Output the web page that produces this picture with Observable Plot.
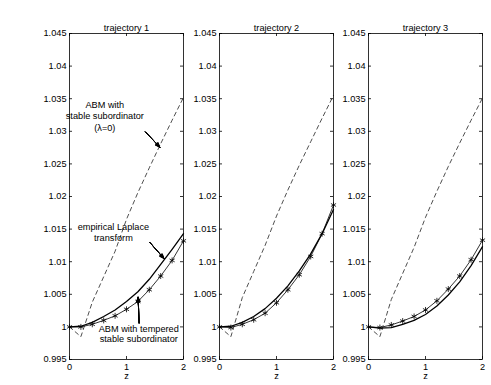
<!DOCTYPE html>
<html><head><meta charset="utf-8">
<script src="https://cdn.jsdelivr.net/npm/d3@7"></script>
<script src="https://cdn.jsdelivr.net/npm/@observablehq/plot@0.6"></script>
<style>
body{margin:0;background:#fff;}
#chart{position:relative;width:491px;height:385px;overflow:hidden;background:#fff;}
#chart svg{position:absolute;top:0;}
</style></head><body><div id="chart"></div>
<script>
const z = [0,0.2,0.4,0.6,0.8,1.0,1.2,1.4,1.6,1.8,2.0];
const titles = ["trajectory 1","trajectory 2","trajectory 3"];

const empirical1 = [1.0, 1.0001, 1.0007, 1.0016, 1.0026, 1.0039, 1.0054, 1.0073, 1.0096, 1.0119, 1.0143];
const tempered1  = [1.0, 1.0000, 1.0004, 1.0010, 1.0017, 1.0027, 1.0039, 1.0057, 1.0078, 1.0102, 1.0132];
const stable1    = [1.0, 0.9985, 1.0038, 1.0077, 1.0116, 1.0165, 1.0206, 1.0244, 1.0281, 1.0317, 1.0352];

const empirical2 = [1.0, 1.0001, 1.0007, 1.0016, 1.0028, 1.0044, 1.0063, 1.0086, 1.0112, 1.0143, 1.0180];
const tempered2  = [1.0, 0.9999, 1.0004, 1.0011, 1.0021, 1.0037, 1.0057, 1.0080, 1.0108, 1.0143, 1.0187];
const stable2    = [1.0, 0.9985, 1.0045, 1.0085, 1.0125, 1.0170, 1.0210, 1.0248, 1.0284, 1.0320, 1.0355];

const empirical3 = [1.0, 0.9998, 0.9999, 1.0004, 1.0010, 1.0019, 1.0032, 1.0049, 1.0069, 1.0094, 1.0123];
const tempered3  = [1.0, 0.9999, 1.0003, 1.0009, 1.0016, 1.0026, 1.0040, 1.0058, 1.0078, 1.0103, 1.0133];
const stable3    = [1.0, 0.9985, 1.0042, 1.0082, 1.0122, 1.0168, 1.0208, 1.0246, 1.0282, 1.0317, 1.0351];

const yTicks = [0.995, 1, 1.005, 1.01, 1.015, 1.02, 1.025, 1.03, 1.035, 1.04, 1.045];
const yTickLabels = ["0.995","1","1.005","1.01","1.015","1.02","1.025","1.03","1.035","1.04","1.045"];
const xTicks = [0, 1, 2];
const xTickLabels = ["0","1","2"];
const xLabel = "z";

const annotationTexts = ["ABM with\nstable subordinator\n(λ=0)", "empirical Laplace\ntransform", "ABM with tempered\nstable subordinator"];
const annotationX = [0.62, 0.77, 1.215];
const annotationY = [1.0324, 1.0145, 0.99895];
const annotationLineHeight = [1.27, 1.16, 1.16];
const arrowX1 = [1.333, 1.41, 1.221];
const arrowY1 = [1.0299, 1.01295, 1.0006];
const arrowX2 = [1.584, 1.656, 1.204];
const arrowY2 = [1.02757, 1.0105, 1.00455];

const series = [
  [empirical1, tempered1, stable1],
  [empirical2, tempered2, stable2],
  [empirical3, tempered3, stable3]
];
const offsets = [0, 150, 299];

const FONT = "'Liberation Sans', Arial, Helvetica, sans-serif";
const W = 193, ML = 69, MR = 10, MT = 33, MB = 26, H = 385;
const fw = W - ML - MR, fh = H - MT - MB, tk = 3;
const yLab = new Map(yTicks.map((d, i) => [d, yTickLabels[i]]));
const xLab = new Map(xTicks.map((d, i) => [d, xTickLabels[i]]));

const chart = document.getElementById("chart");

series.forEach(([emp, tmp, stb], p) => {
  const rows = z.map((zz, i) => ({z: zz, empirical: emp[i], tempered: tmp[i], stable: stb[i]}));
  const marks = [
    Plot.axisY(yTicks, {tickSize: 0, tickPadding: 3, tickFormat: d => yLab.get(d), fontSize: 9.2, label: null}),
    Plot.axisX(xTicks, {tickSize: 0, tickPadding: 4, tickFormat: d => xLab.get(d), fontSize: 9.2, label: null}),
    Plot.tickY(yTicks, {y: d => d, insetRight: fw - tk, stroke: "#000", strokeWidth: 0.8}),
    Plot.tickY(yTicks, {y: d => d, insetLeft: fw - tk, stroke: "#000", strokeWidth: 0.8}),
    Plot.tickX(xTicks, {x: d => d, insetTop: fh - tk, stroke: "#000", strokeWidth: 0.8}),
    Plot.tickX(xTicks, {x: d => d, insetBottom: fh - tk, stroke: "#000", strokeWidth: 0.8}),
    Plot.line(rows, {x: "z", y: "stable", stroke: "#222", strokeWidth: 0.8, strokeDasharray: "4,3.5"}),
    Plot.line(rows, {x: "z", y: "empirical", stroke: "#000", strokeWidth: 1.3}),
    Plot.line(rows, {x: "z", y: "tempered", stroke: "#000", strokeWidth: 0.8}),
    Plot.dot(rows, {x: "z", y: "tempered", symbol: "asterisk", r: 2.8, stroke: "#000", strokeWidth: 0.8}),
    Plot.frame({stroke: "#000", strokeWidth: 0.8}),
    Plot.text([titles[p]], {text: d => d, frameAnchor: "top", dy: -9, fontSize: 9.2, fill: "#000"}),
    Plot.text([xLabel], {text: d => d, frameAnchor: "bottom", dy: 19, fontSize: 9.2, fill: "#000"})
  ];
  if (p === 0) {
    annotationTexts.forEach((t, i) => {
      marks.push(Plot.text([t], {text: d => d, x: () => annotationX[i], y: () => annotationY[i],
        fontSize: 9.2, lineHeight: annotationLineHeight[i], fill: "#000", textAnchor: "middle", lineAnchor: "middle"}));
    });
    const arrows = annotationTexts.map((t, i) => ({x1: arrowX1[i], y1: arrowY1[i], x2: arrowX2[i], y2: arrowY2[i]}));
    [8, 16, 24, 32, 40, 46].forEach(a => {
      marks.push(Plot.arrow(arrows, {x1: "x1", y1: "y1", x2: "x2", y2: "y2", stroke: "#000", strokeWidth: 0.9, headLength: 8, headAngle: a}));
    });
  }
  const svg = Plot.plot({
    width: W, height: H,
    marginLeft: ML, marginRight: MR, marginTop: MT, marginBottom: MB,
    x: {domain: [0, 2]},
    y: {domain: [0.995, 1.045]},
    style: {fontFamily: FONT, fontSize: "9.2px", color: "#000", background: "transparent", overflow: "visible"},
    marks
  });
  svg.style.position = "absolute";
  svg.style.left = offsets[p] + "px";
  svg.style.top = "0px";
  svg.style.maxWidth = "none";
  chart.appendChild(svg);
});
</script>
</body></html>
